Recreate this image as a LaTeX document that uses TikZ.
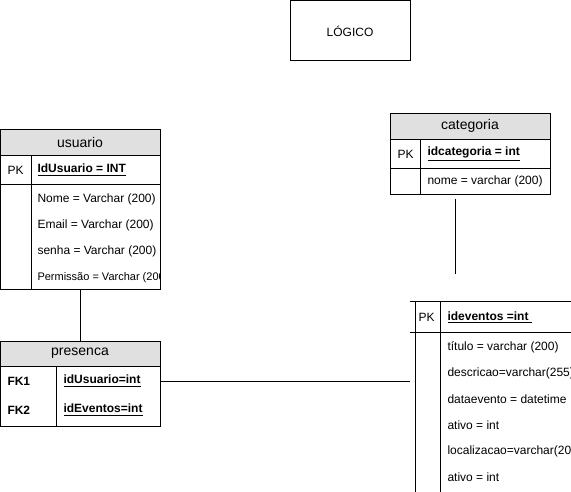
\documentclass[tikz,border=0pt]{standalone}
\usepackage{fontspec}
\setmainfont{Liberation Sans}
\definecolor{headGray}{HTML}{E0E0E0}
\begin{document}
\begin{tikzpicture}
        [x=0.75pt, y=-0.75pt, line width=0.75pt,
        box/.style={draw, rectangle, inner sep=0, minimum width=120pt},
        boxGray/.style={draw, rectangle, inner sep=0, minimum width=120pt, fill=headGray, font=\fontsize{10.5}{12}\selectfont},
        txt/.style={anchor=west, inner sep=0, font=\fontsize{9}{11}\selectfont},
        txtKey/.style={anchor=west, inner sep=0, font=\fontsize{9}{11}\selectfont\bfseries}]
        \useasboundingbox (0,0) rectangle (571,492);

        % logico
        \node[box, minimum width=90pt, minimum height=45pt, font=\fontsize{9}{11}\selectfont] (logico) at (350,31) {LÓGICO};

        % usuario
        \node[box, minimum height=120pt] (usuario) at (80,209) {};
        \node[boxGray, minimum height=19.5pt] (usuarioHead) at (80,142) {usuario};
        \draw (0,184) -- (160,184);
        \draw (31,155) -- (31,289);
        \node[txt] (usuarioPK) at (7,170) {PK};
        \node[txtKey] (usuarioId) at (37,170) {\underline{IdUsuario = INT}};
        \begin{scope}
            \clip (31,184) rectangle (160,289);
            \node[txt] (usuarioNome) at (37,199.5) {Nome = Varchar (200)};
            \node[txt] (usuarioEmail) at (37,225.5) {Email = Varchar (200)};
            \node[txt] (usuarioSenha) at (37,251.5) {senha = Varchar (200)};
            \node[txt, font=\fontsize{8.25}{10}\selectfont] (usuarioPerm) at (37,277.5) {Permissão = Varchar (200)};
        \end{scope}

        % presenca
        \node[box, minimum height=63.75pt] (presenca) at (80,383.5) {};
        \node[boxGray, minimum height=18.75pt] (presencaHead) at (80,353.5) {presenca};
        \draw (56,366) -- (56,426);
        \node[txtKey] (presencaFK1) at (7,381) {FK1};
        \node[txtKey] (presencaUsuario) at (63,381) {\underline{idUsuario=int}};
        \node[txtKey] (presencaFK2) at (7,410) {FK2};
        \node[txtKey] (presencaEventos) at (63,410) {\underline{idEventos=int}};

        % categoria
        \node[box, minimum height=60.75pt] (categoria) at (470,153.5) {};
        \node[boxGray, minimum height=19.5pt] (categoriaHead) at (470,126) {categoria};
        \draw (390,168) -- (550,168);
        \draw (420,139) -- (420,194);
        \node[txt] (categoriaPK) at (397,154) {PK};
        \node[txtKey] (categoriaId) at (427,154) {\underline{idcategoria = int}};
        \node[txt] (categoriaNome) at (427,181.5) {nome = varchar (200)};
        \coordinate (catTop) at (455,199);
        \coordinate (catEnd) at (455,274);
        \draw (catTop) -- (catEnd);

        % eventos
        \draw (410,301) -- (571,301);
        \draw (410,332) -- (571,332);
        \draw (415,301) -- (415,492);
        \draw (440,301) -- (440,492);
        \node[txt] (eventosPK) at (418,317.5) {PK};
        \node[txtKey] (eventosId) at (447,317.5) {\underline{ideventos =int\ }};
        \foreach \y/\t in {347.5/título = varchar (200), 373.5/descricao=varchar(255), 399.5/dataevento = datetime, 425.5/ativo = int, 451.5/localizacao=varchar(200), 477.5/ativo = int}
            \node[txt] at (447,\y) {\t};
        \coordinate (eventosIn) at (410,381);

        \draw (usuario.south) -- (presencaHead.north);
        \draw (presenca.east |- presencaFK1) -- (eventosIn);

    \end{tikzpicture}
\end{document}
